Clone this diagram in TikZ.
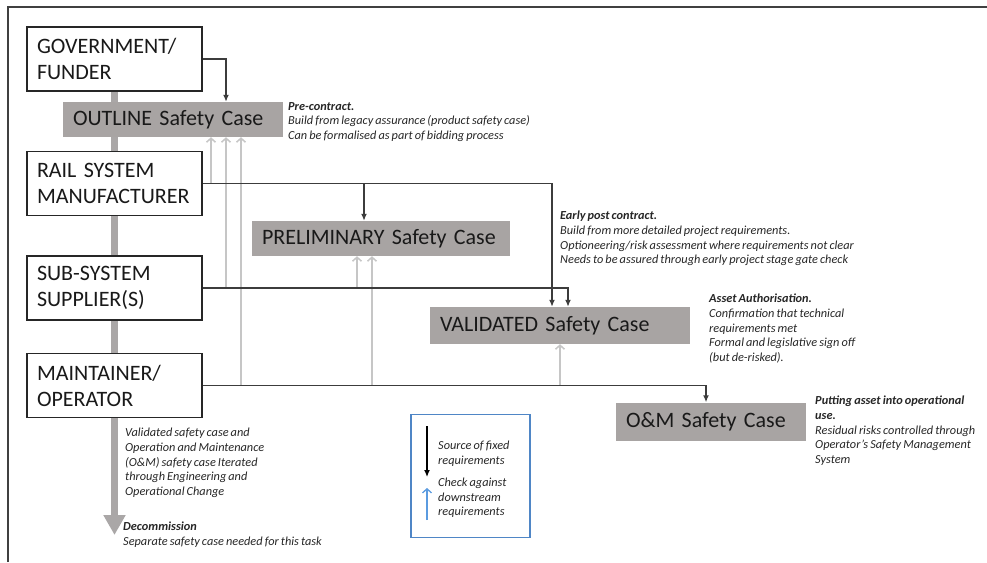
\documentclass[tikz,border=0pt]{standalone}
\usepackage{fontspec}
\setmainfont{Carlito}[WordSpace=0.75]
\usetikzlibrary{arrows.meta, positioning, backgrounds}

\definecolor{casegray}{HTML}{A8A4A3}
\definecolor{trunkgray}{HTML}{AAA7A7}
\definecolor{checkgray}{HTML}{C6C6C6}
\definecolor{linegray}{HTML}{3C3C3C}
\definecolor{legendblue}{HTML}{4F86C6}
\definecolor{checkblue}{HTML}{5B9BE0}

\tikzset{
	party/.style={draw=black!85, line width=1.3pt, fill=white, text width=155pt, inner xsep=10pt, minimum height=64pt, align=left, font=\fontsize{22}{26}\selectfont, text=black!90},
	safetycase/.style={fill=casegray, text width=200pt, inner xsep=10pt, minimum height=35pt, align=left, font=\fontsize{22}{26}\selectfont, text=black!90},
	note/.style={anchor=north west, inner sep=0pt, align=left, font=\fontsize{12.3}{14.7}\selectfont\itshape, text=black!85, execute at begin node=\strut},
	fixed/.style={draw=linegray, line width=1.4pt, -{Latex[length=7pt,width=6pt]}},
	check/.style={draw=checkgray, line width=1.5pt, -{Straight Barb[length=4pt,width=9pt]}},
	trunk/.style={draw=trunkgray, line width=7pt, -{Triangle[length=20pt,width=21pt]}},
	legendbox/.style={draw=legendblue, line width=1.3pt, minimum width=119pt, minimum height=123pt, inner sep=0pt}
}

\begin{document}
\begin{tikzpicture}[x=1pt, y=-1pt]

\useasboundingbox (0,0) rectangle (987,562);

%Frame
\draw[line width=1.5pt, black!75] (8,562) -- (8,7) -- (987,7);

%Parties
\node[party] (gov) at (114.5,59) {GOVERNMENT/\\FUNDER};
\node[party] (rail) at (114.5,183.5) {RAIL SYSTEM\\MANUFACTURER};
\node[party] (sub) at (114.5,288) {SUB-SYSTEM\\SUPPLIER(S)};
\node[party] (maint) at (114.5,385.5) {MAINTAINER/\\OPERATOR};

%Safety cases
\node[safetycase] (outline) at (173,119.5) {OUTLINE Safety Case};
\node[safetycase, text width=238pt] (prelim) at (381,238.5) {PRELIMINARY Safety Case};
\node[safetycase, text width=240pt, minimum height=37pt] (valid) at (560,325.5) {VALIDATED Safety Case};
\node[safetycase, text width=170pt, minimum height=38pt] (om) at (711,421.5) {O\&M Safety Case};

%%%%%%%%%%%%%%%%%%
%Coordinates

\coordinate (decomtip) at (114.5,535);

\coordinate (down1) at (226,0);
\coordinate (down2) at (364,0);
\coordinate (down3) at (552,0);
\coordinate (down4) at (568,0);
\coordinate (down5) at (706,0);

\coordinate (up1) at (211,0);
\coordinate (up2) at (226,0);
\coordinate (up3) at (241,0);
\coordinate (up4) at (357,0);
\coordinate (up5) at (372,0);

%Trunk
\begin{scope}[on background layer]
	\draw[trunk] (gov.south) -- (decomtip);
\end{scope}

%Checks
\draw[check] (rail.east -| up1) -- (outline.south -| up1);
\draw[check] (sub.east -| up2) -- (outline.south -| up2);
\draw[check] (maint.east -| up3) -- (outline.south -| up3);
\draw[check] (sub.east -| up4) -- (prelim.south -| up4);
\draw[check] (maint.east -| up5) -- (prelim.south -| up5);
\draw[check] (maint.east -| valid.south) -- (valid.south);

%Fixed requirements
\draw[fixed] (gov.east) -| (outline.north -| down1);
\draw[fixed] (rail.east) -| (valid.north -| down3);
\draw[fixed] (rail.east -| down2) -- (prelim.north -| down2);
\draw[fixed] (sub.east) -| (valid.north -| down4);
\draw[fixed] (maint.east) -| (om.north -| down5);

% Notes
\node[note] (pre) at (288,102) {\textbf{Pre-contract.}\\Build from legacy assurance (product safety case)\\Can be formalised as part of bidding process};
\node[note] (early) at (560,211) {\textbf{Early post contract.}\\Build from more detailed project requirements.\\Optioneering/risk assessment where requirements not clear\\Needs to be assured through early project stage gate check};
\node[note] (asset) at (709,294) {\textbf{Asset Authorisation.}\\Confirmation that technical\\requirements met\\Formal and legislative sign off\\(but de-risked).};
\node[note] (putting) at (815,396) {\textbf{Putting asset into operational}\\\textbf{use.}\\Residual risks controlled through\\Operator’s Safety Management\\System};
\node[note] (iterate) at (125,428) {Validated safety case and\\Operation and Maintenance\\(O\&M) safety case Iterated\\through Engineering and\\Operational Change};
\node[note] (decom) at (123,522) {\textbf{Decommission}\\Separate safety case needed for this task};

%Legend
\node[legendbox] (legend) at (470.5,476) {};
\node[note] (src) at (438,440.7) {Source of fixed\\requirements};
\node[note] (chk) at (438,477.7) {Check against\\downstream\\requirements};

\coordinate (srctop) at (427,426);
\coordinate (srcend) at (427,477);
\coordinate (chkbot) at (427,520);
\coordinate (chkend) at (427,488);

\draw[black, line width=1.3pt, -{Latex[length=7pt,width=6pt]}] (srctop) -- (srcend);
\draw[checkblue, line width=1.3pt, -{Straight Barb[length=4pt,width=9pt]}] (chkbot) -- (chkend);

\end{tikzpicture}
\end{document}
